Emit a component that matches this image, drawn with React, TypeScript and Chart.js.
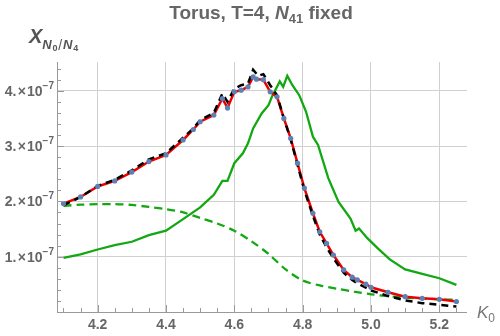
import React, { useEffect, useRef } from "react";
import { Chart, registerables } from "chart.js";
Chart.register(...registerables);

const UNIT = 1e-7;

// Red series (shown with blue markers)
const redK = [4.1, 4.15, 4.2, 4.25, 4.3, 4.35, 4.4, 4.45, 4.48, 4.5, 4.54, 4.565, 4.58, 4.6, 4.62, 4.64, 4.655, 4.665, 4.685, 4.705, 4.725, 4.745, 4.765, 4.785, 4.805, 4.83, 4.85, 4.87, 4.89, 4.92, 4.945, 4.96, 4.985, 5.0, 5.05, 5.1, 5.15, 5.2, 5.25];
const redV = [1.96, 2.08, 2.27, 2.37, 2.53, 2.72, 2.84, 3.11, 3.3, 3.44, 3.56, 3.86, 3.69, 3.98, 4.01, 4.07, 4.25, 4.21, 4.2, 3.98, 3.89, 3.5, 3.14, 2.69, 2.24, 1.785, 1.45, 1.24, 1.03, 0.76, 0.63, 0.58, 0.506, 0.447, 0.356, 0.277, 0.247, 0.23, 0.19];

// Black dashed series
const blackK = [4.1, 4.15, 4.2, 4.25, 4.3, 4.35, 4.4, 4.45, 4.48, 4.5, 4.54, 4.565, 4.58, 4.6, 4.62, 4.64, 4.655, 4.67, 4.685, 4.705, 4.725, 4.745, 4.765, 4.785, 4.805, 4.83, 4.85, 4.87, 4.89, 4.92, 4.945, 4.96, 4.985, 5.0, 5.05, 5.1, 5.15, 5.2, 5.25];
const blackV = [1.93, 2.08, 2.28, 2.39, 2.56, 2.76, 2.87, 3.15, 3.32, 3.47, 3.6, 3.95, 3.8, 4.04, 4.1, 4.13, 4.38, 4.27, 4.3, 4.1, 3.92, 3.5, 3.12, 2.66, 2.2, 1.74, 1.4, 1.17, 0.97, 0.71, 0.58, 0.52, 0.44, 0.39, 0.29, 0.21, 0.16, 0.13, 0.1];

// Green solid series
const greenK = [4.1, 4.15, 4.2, 4.25, 4.3, 4.35, 4.4, 4.45, 4.5, 4.54, 4.565, 4.58, 4.6, 4.625, 4.64, 4.655, 4.68, 4.7, 4.71, 4.733, 4.743, 4.755, 4.77, 4.79, 4.81, 4.83, 4.845, 4.875, 4.905, 4.94, 4.955, 4.965, 4.99, 5.02, 5.055, 5.1, 5.15, 5.2, 5.25];
const greenV = [0.98, 1.04, 1.13, 1.21, 1.27, 1.39, 1.47, 1.68, 1.89, 2.12, 2.37, 2.37, 2.69, 2.87, 3.05, 3.32, 3.59, 3.74, 3.89, 4.17, 4.07, 4.27, 4.1, 3.92, 3.62, 3.17, 3.02, 2.42, 1.99, 1.69, 1.47, 1.51, 1.33, 1.15, 0.95, 0.77, 0.69, 0.61, 0.49];

// Green dashed series
const gdashK = [4.1, 4.15, 4.2, 4.25, 4.3, 4.35, 4.4, 4.45, 4.5, 4.55, 4.6, 4.65, 4.7, 4.75, 4.8, 4.85, 4.9, 4.95, 5.0, 5.1, 5.2, 5.25];
const gdashV = [1.92, 1.94, 1.95, 1.95, 1.935, 1.9, 1.86, 1.8, 1.7, 1.6, 1.47, 1.28, 1.05, 0.77, 0.57, 0.48, 0.42, 0.37, 0.32, 0.26, 0.23, 0.22];

const xTicks = [4.2, 4.4, 4.6, 4.8, 5.0, 5.2];
const xTickLabels = ["4.2", "4.4", "4.6", "4.8", "5.0", "5.2"];
const yTicks = [1, 2, 3, 4];
const yTickLabels = ["1.", "2.", "3.", "4."];

const X_MIN = 4.081;
const X_MAX = 5.281;
const Y_MAX = 4.52;

const toPts = (ks: number[], vs: number[]) => ks.map((k, i) => ({ x: k, y: vs[i] * UNIT }));

const GRAY = "#666666";
const TICKGRAY = "#9a9a9a";
const FF = "'Liberation Sans', Arial, sans-serif";

const overlay = {
  id: "overlay",
  afterDraw(chart: any) {
    const ctx = chart.ctx as CanvasRenderingContext2D;
    const xs = chart.scales.x;
    const ys = chart.scales.y;
    const a = chart.chartArea;
    ctx.save();
    // axis lines
    ctx.strokeStyle = TICKGRAY;
    ctx.lineWidth = 1;
    ctx.beginPath();
    ctx.moveTo(a.left + 0.5, a.top);
    ctx.lineTo(a.left + 0.5, a.bottom);
    ctx.moveTo(a.left, a.bottom + 0.5);
    ctx.lineTo(a.right, a.bottom + 0.5);
    ctx.stroke();
    // minor/major ticks
    ctx.beginPath();
    for (let i = 0; i <= 23; i++) {
      const k = 4.1 + i * 0.05;
      const px = Math.round(xs.getPixelForValue(k)) + 0.5;
      const major = xTicks.some((t) => Math.abs(t - k) < 1e-6);
      ctx.moveTo(px, a.bottom);
      ctx.lineTo(px, a.bottom - (major ? 7 : 4));
    }
    for (let i = 1; i <= 22; i++) {
      const v = i * 0.2 * UNIT;
      const py = Math.round(ys.getPixelForValue(v)) + 0.5;
      const major = i % 5 === 0;
      ctx.moveTo(a.left, py);
      ctx.lineTo(a.left + (major ? 7 : 4), py);
    }
    ctx.stroke();

    // x tick labels
    ctx.fillStyle = GRAY;
    ctx.font = `bold 14px ${FF}`;
    ctx.textAlign = "center";
    ctx.textBaseline = "alphabetic";
    xTicks.forEach((t, i) => {
      ctx.fillText(xTickLabels[i], xs.getPixelForValue(t), a.bottom + 17);
    });
    // y tick labels: "n.×10^-7"
    yTicks.forEach((t, i) => {
      const py = ys.getPixelForValue(t * UNIT);
      const right = a.left - 3;
      ctx.textAlign = "left";
      ctx.font = `bold 10px ${FF}`;
      const sup = "\u22127";
      const wSup = ctx.measureText(sup).width;
      ctx.font = `bold 14px ${FF}`;
      const pieces = [yTickLabels[i], "\u00d7", "10"];
      const gaps = [1.5, 1, 0];
      let wBase = 0;
      pieces.forEach((p, j) => (wBase += ctx.measureText(p).width + gaps[j]));
      let x0 = right - wSup - wBase;
      pieces.forEach((p, j) => {
        ctx.fillText(p, x0, py + 5);
        x0 += ctx.measureText(p).width + gaps[j];
      });
      ctx.font = `bold 10px ${FF}`;
      ctx.fillText(sup, x0, py - 2);
    });

    // title
    const parts: [string, string, number][] = [
      ["Torus, T=4, ", `bold 19px ${FF}`, 0],
      ["N", `italic bold 19px ${FF}`, 0],
      ["41", `bold 13px ${FF}`, 4],
      [" fixed", `bold 19px ${FF}`, 0],
    ];
    let total = 0;
    parts.forEach(([s, f]) => {
      ctx.font = f;
      total += ctx.measureText(s).width;
    });
    let tx = 261 - total / 2;
    ctx.fillStyle = GRAY;
    ctx.textAlign = "left";
    parts.forEach(([s, f, dy]) => {
      ctx.font = f;
      ctx.fillText(s, tx, 19 + dy);
      tx += ctx.measureText(s).width;
    });

    // y axis label X_{N0/N4}
    ctx.fillStyle = "#555555";
    let lx = 29;
    ctx.font = `italic bold 20px ${FF}`;
    ctx.fillText("X", lx, 43);
    lx += ctx.measureText("X").width;
    const sub: [string, string, number][] = [
      ["N", `italic bold 13px ${FF}`, 49],
      ["0", `bold 9px ${FF}`, 51],
      ["/", `14px ${FF}`, 50],
      ["N", `italic bold 13px ${FF}`, 49],
      ["4", `bold 9px ${FF}`, 51],
    ];
    sub.forEach(([s, f, by]) => {
      ctx.font = f;
      ctx.fillText(s, lx, by);
      lx += ctx.measureText(s).width + 0.8;
    });

    // x axis label K_0
    ctx.fillStyle = "#777777";
    ctx.font = `italic 17px ${FF}`;
    ctx.fillText("K", 477, 318);
    const kw = ctx.measureText("K").width;
    ctx.font = `12px ${FF}`;
    ctx.fillText("0", 477 + kw, 322);
    ctx.restore();
  },
};

export default function App() {
  const ref = useRef<HTMLCanvasElement | null>(null);
  useEffect(() => {
    if (!ref.current) return;
    const chart = new Chart(ref.current, {
      type: "line",
      data: {
        datasets: [
          {
            label: "points",
            data: toPts(redK, redV),
            showLine: false,
            pointRadius: 2.6,
            pointBackgroundColor: "#5e81b5",
            pointBorderWidth: 0,
            borderColor: "#5e81b5",
            order: 0,
          },
          {
            label: "black",
            data: toPts(blackK, blackV),
            borderColor: "#000000",
            borderWidth: 2.5,
            borderDash: [7, 5],
            pointRadius: 0,
            tension: 0,
            order: 1,
          },
          {
            label: "red",
            data: toPts(redK, redV),
            borderColor: "#ee0000",
            borderWidth: 2.5,
            pointRadius: 0,
            tension: 0,
            order: 2,
          },
          {
            label: "green",
            data: toPts(greenK, greenV),
            borderColor: "#12a812",
            borderWidth: 2.3,
            pointRadius: 0,
            tension: 0,
            order: 3,
          },
          {
            label: "green dashed",
            data: toPts(gdashK, gdashV),
            borderColor: "#12a812",
            borderWidth: 2.3,
            borderDash: [8, 5],
            pointRadius: 0,
            tension: 0.3,
            order: 4,
          },
        ],
      },
      options: {
        animation: false,
        responsive: false,
        events: [],
        layout: { padding: { left: 57, right: 33, top: 62, bottom: 24 } },
        plugins: { legend: { display: false }, tooltip: { enabled: false }, title: { display: false } },
        scales: {
          x: {
            type: "linear",
            min: X_MIN,
            max: X_MAX,
            afterBuildTicks: (s: any) => {
              s.ticks = xTicks.map((v) => ({ value: v }));
            },
            ticks: { display: false },
            grid: { color: "#d0d0d0", lineWidth: 1, drawTicks: false },
            border: { display: false },
          },
          y: {
            type: "linear",
            min: 0,
            max: Y_MAX * UNIT,
            afterBuildTicks: (s: any) => {
              s.ticks = yTicks.map((v) => ({ value: v * UNIT }));
            },
            ticks: { display: false },
            grid: { color: "#d0d0d0", lineWidth: 1, drawTicks: false },
            border: { display: false },
          },
        },
      },
      plugins: [overlay],
    });
    return () => chart.destroy();
  }, []);
  return (
    <div style={{ position: "absolute", left: 0, top: 0, width: 500, height: 336, background: "#fff" }}>
      <canvas ref={ref} width={500} height={336} />
    </div>
  );
}
